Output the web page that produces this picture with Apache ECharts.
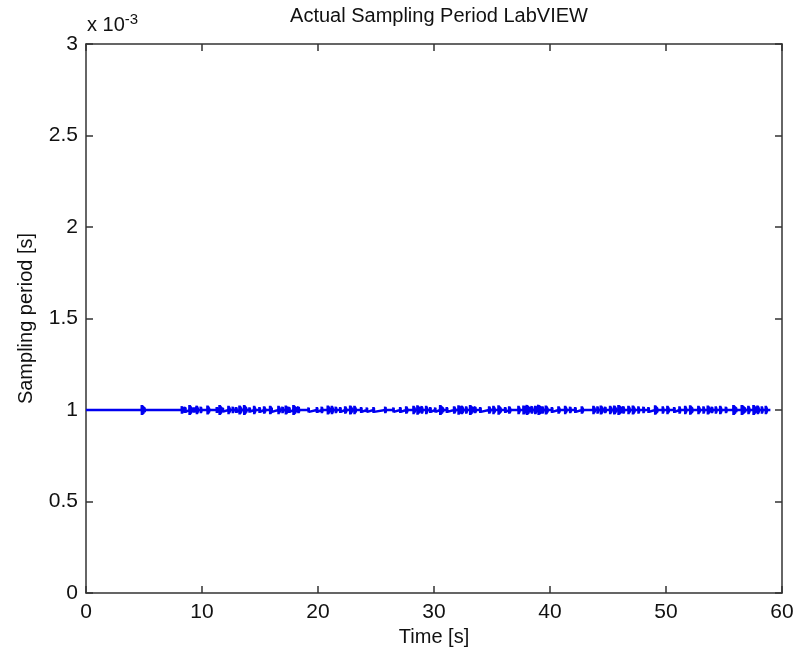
<!DOCTYPE html>
<html>
<head>
<meta charset="utf-8">
<script src="https://cdn.jsdelivr.net/npm/echarts@6/dist/echarts.min.js"></script>
<style>
  html, body { margin: 0; padding: 0; background: #fff; }
  #chart { width: 798px; height: 653px; }
</style>
</head>
<body>
<div id="chart"></div>
<script>
// times where the sampling period jitters (s)
var spikeTimes = [
  1.03, 4.8,
  8.25, 8.53, 8.91, 9.31, 9.54, 9.88, 10.46, 11.26, 11.5, 11.78, 12.27, 12.64, 12.93, 13.22, 13.62, 14.08, 14.48, 14.94, 15.34, 15.86,
  16.58, 16.92, 17.21, 17.5, 17.87, 18.3, 19.17, 19.89, 20.31, 20.83, 21.18, 21.52, 21.9, 22.33, 22.76, 23.13, 23.7, 24.2, 24.77,
  25.78, 26.49, 27.07, 27.59, 28.22, 28.56, 28.94, 29.31, 29.66, 30.09, 30.52, 31.09, 31.72, 32.1, 32.39, 32.76, 33.1, 33.53, 33.97,
  34.74, 35.11, 35.55, 36.12, 36.47, 37.27, 37.7, 37.99, 38.42, 38.71, 39.0, 39.34, 39.63, 40.15, 40.72, 41.29, 41.72, 42.16, 42.73,
  43.73, 44.08, 44.37, 44.74, 45.17, 45.52, 45.89, 46.32, 46.75, 47.13, 47.61, 48.04, 48.47, 49.05, 49.71, 50.11, 50.69, 51.15, 51.64, 52.07,
  52.78, 53.22, 53.59, 53.94, 54.28, 54.66, 55.15, 55.8, 56.52, 57.09, 57.53, 57.9, 58.25, 58.59
];
// size of each jitter (microseconds)
var spikeDevUs = [
  6, 28,
  22, 18, 28, 16, 24, 20, 26, 18, 28, 14, 24, 20, 18, 26, 28, 16, 24, 18, 22, 24,
  24, 20, 26, 18, 28, 20, 16, 18, 20, 26, 24, 20, 18, 22, 26, 24, 18, 16, 18,
  20, 16, 18, 22, 24, 26, 22, 24, 18, 16, 28, 18, 22, 26, 24, 22, 28, 20, 18,
  22, 24, 26, 18, 22, 24, 26, 28, 22, 24, 28, 22, 26, 18, 22, 24, 20, 18, 22,
  24, 22, 26, 20, 24, 26, 28, 22, 24, 26, 22, 20, 18, 26, 22, 24, 18, 22, 24, 26,
  24, 22, 26, 20, 22, 24, 20, 28, 28, 24, 28, 24, 22, 24
];
// how long each burst of jitter lasts (s)
var spikeLen = [
  0.03, 0.25,
  0.12, 0.06, 0.2, 0.06, 0.1, 0.06, 0.15, 0.06, 0.2, 0.04, 0.12, 0.06, 0.06, 0.15, 0.2, 0.06, 0.1, 0.06, 0.1, 0.15,
  0.12, 0.06, 0.15, 0.06, 0.25, 0.06, 0.04, 0.06, 0.06, 0.15, 0.1, 0.06, 0.06, 0.1, 0.15, 0.12, 0.06, 0.04, 0.06,
  0.06, 0.04, 0.06, 0.1, 0.12, 0.2, 0.06, 0.1, 0.06, 0.04, 0.25, 0.06, 0.1, 0.2, 0.12, 0.06, 0.25, 0.06, 0.06,
  0.1, 0.12, 0.2, 0.06, 0.1, 0.1, 0.15, 0.25, 0.06, 0.1, 0.3, 0.06, 0.15, 0.06, 0.1, 0.12, 0.06, 0.06, 0.1,
  0.12, 0.06, 0.15, 0.06, 0.12, 0.15, 0.3, 0.06, 0.12, 0.15, 0.06, 0.06, 0.06, 0.2, 0.06, 0.12, 0.06, 0.06, 0.1, 0.2,
  0.12, 0.06, 0.15, 0.06, 0.06, 0.1, 0.06, 0.25, 0.3, 0.1, 0.2, 0.1, 0.06, 0.1
];
var nominalPeriod = 0.001;
var tStart = 0, tEnd = 59.0;
var xTicks = [0, 10, 20, 30, 40, 50, 60];
var yTicks = [0, 0.0005, 0.001, 0.0015, 0.002, 0.0025, 0.003];

// one sample long, the next short, repeated over the burst and dying out
var data = [[tStart, nominalPeriod]];
for (var i = 0; i < spikeTimes.length; i++) {
  var t = spikeTimes[i], d = spikeDevUs[i] * 1e-6, len = spikeLen[i];
  data.push([t, nominalPeriod]);
  for (var s = 0.01; s <= len + 1e-9; s += 0.02) {
    var a = d * (1 - 0.6 * s / (len + 0.01));
    data.push([t + s, nominalPeriod + a]);
    data.push([t + s + 0.01, nominalPeriod - a]);
  }
  data.push([t + len + 0.02, nominalPeriod]);
}
data.push([tEnd, nominalPeriod]);

var font = 'Liberation Sans, Arial, sans-serif';
var axisColor = '#333';

function axisBase(extra) {
  var a = {
    axisLine: { show: true, onZero: false, lineStyle: { color: axisColor, width: 1.5 } },
    axisTick: { show: true, inside: true, length: 7, lineStyle: { color: axisColor, width: 1.5 } },
    splitLine: { show: false }
  };
  for (var k in extra) a[k] = extra[k];
  return a;
}

var myChart = echarts.init(document.getElementById('chart'));
var option = {
  animation: false,
  backgroundColor: '#fff',
  title: {
    text: 'Actual Sampling Period LabVIEW',
    left: 434, top: 1, textAlign: 'center',
    textStyle: { fontFamily: font, fontSize: 20, fontWeight: 'normal', color: '#111' }
  },
  grid: { left: 86, right: 16, top: 44, bottom: 60 },
  xAxis: [
    axisBase({
      type: 'value', min: xTicks[0], max: xTicks[xTicks.length - 1], interval: 10,
      position: 'bottom',
      name: 'Time [s]', nameLocation: 'middle', nameGap: 32,
      nameTextStyle: { fontFamily: font, fontSize: 20, color: '#111' },
      axisLabel: { fontFamily: font, fontSize: 21, color: '#111', margin: 9 }
    }),
    axisBase({
      type: 'value', min: xTicks[0], max: xTicks[xTicks.length - 1], interval: 10,
      position: 'top', axisLabel: { show: false }
    })
  ],
  yAxis: [
    axisBase({
      type: 'value', min: yTicks[0], max: yTicks[yTicks.length - 1], interval: 0.0005,
      position: 'left',
      name: 'Sampling period [s]', nameLocation: 'middle', nameGap: 50, nameRotate: 90,
      nameTextStyle: { fontFamily: font, fontSize: 20, color: '#111' },
      axisLabel: {
        fontFamily: font, fontSize: 21, color: '#111', margin: 8,
        formatter: function (v) { return String(Math.round(v * 1e4) / 10); }
      }
    }),
    axisBase({
      type: 'value', min: yTicks[0], max: yTicks[yTicks.length - 1], interval: 0.0005,
      position: 'right', axisLabel: { show: false }
    })
  ],
  graphic: [{
    type: 'text', left: 87, top: 12,
    style: {
      text: 'x 10{s|-3}',
      font: '20px ' + font,
      fill: '#111',
      rich: { s: { fontSize: 15, fontFamily: font, verticalAlign: 'top', padding: [0, 0, 12, 0] } }
    }
  }],
  series: [{
    type: 'line',
    xAxisIndex: 0, yAxisIndex: 0,
    data: data,
    showSymbol: false,
    lineStyle: { color: '#0000f0', width: 2.5 },
    silent: true
  }]
};
myChart.setOption(option);
</script>
</body>
</html>
